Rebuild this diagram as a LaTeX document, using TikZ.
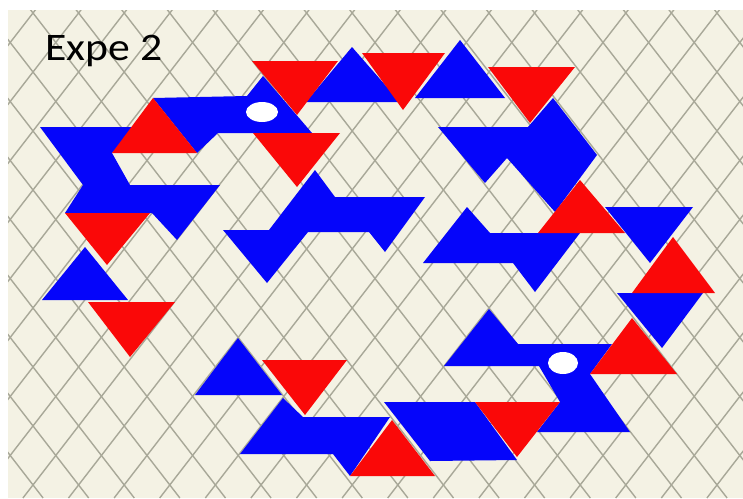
\documentclass[tikz,border=0pt]{standalone}
\usepackage{fontspec}
\newfontfamily\labfont{Carlito}
\definecolor{cream}{RGB}{244,242,228}
\definecolor{gridc}{RGB}{168,168,152}
\definecolor{pblue}{RGB}{5,5,250}
\definecolor{pred}{RGB}{250,8,8}
\begin{document}
\begin{tikzpicture}[x=1pt,y=-1pt,
  bl/.style={fill=pblue},
  rd/.style={fill=pred},
  gl/.style={gridc,line width=1.4pt},
  hole/.style={fill=white}]
\useasboundingbox (0,0) rectangle (743,498);
\fill[white] (0,0) rectangle (743,498);
\fill[cream] (8,10) rectangle (743,498);
\begin{scope}
\clip (8,10) rectangle (743,498);
\foreach \k in {-9,...,24}{
  \pgfmathsetmacro\xo{33+45.6*\k}
  \draw[gl] (\xo-10.05,0) -- (\xo+374.9,498);
  \draw[gl] (\xo+10.05,0) -- (\xo-374.9,498);
}
\end{scope}
% blue pieces
\fill[bl] (40,127) -- (135,127) -- (112,153) -- (130,185) -- (220,185) -- (177,240) -- (152,213) -- (65,213) -- (83,185) -- cycle;
\fill[bl] (153,98) -- (247,96) -- (263,76) -- (312,133) -- (218,133) -- (197,153) -- cycle;
\fill[bl] (352,47) -- (306,102) -- (400,102) -- cycle;
\fill[bl] (460,40) -- (415,98) -- (505,98) -- cycle;
\fill[bl] (438,127) -- (528,127) -- (553,98) -- (597,155) -- (555,212) -- (507,158) -- (485,183) -- cycle;
\fill[bl] (223,230) -- (269,230) -- (315,170) -- (335,197) -- (425,197) -- (385,252) -- (369,232) -- (308,232) -- (267,283) -- cycle;
\fill[bl] (423,263) -- (467,207) -- (490,233) -- (580,233) -- (535,292) -- (513,263) -- cycle;
\fill[bl] (605,207) -- (693,207) -- (650,263) -- cycle;
\fill[bl] (617,293) -- (703,293) -- (662,348) -- cycle;
\fill[bl] (85,247) -- (42,300) -- (128,300) -- cycle;
\fill[bl] (238,338) -- (195,395) -- (282,395) -- cycle;
\fill[bl] (240,454) -- (283,398) -- (303,417) -- (390,417) -- (350,476) -- (333,454) -- cycle;
\fill[bl] (384,402) -- (475,402) -- (517,460) -- (430,461) -- cycle;
\fill[bl] (444,366) -- (489,309) -- (518,344) -- (612,344) -- (590,374) -- (630,432) -- (537,432) -- (560,402) -- (539,366) -- cycle;
% red triangles
\fill[rd] (153,98) -- (112,153) -- (197,153) -- cycle;
\fill[rd] (252,61) -- (338,61) -- (297,115) -- cycle;
\fill[rd] (362,53) -- (445,53) -- (403,110) -- cycle;
\fill[rd] (488,67) -- (575,67) -- (530,123) -- cycle;
\fill[rd] (253,133) -- (340,133) -- (297,187) -- cycle;
\fill[rd] (65,213) -- (150,213) -- (107,265) -- cycle;
\fill[rd] (88,302) -- (175,302) -- (130,357) -- cycle;
\fill[rd] (580,180) -- (538,233) -- (625,233) -- cycle;
\fill[rd] (673,237) -- (632,293) -- (715,293) -- cycle;
\fill[rd] (632,318) -- (590,374) -- (677,374) -- cycle;
\fill[rd] (475,402) -- (560,402) -- (517,457) -- cycle;
\fill[rd] (392,420) -- (350,476) -- (435,476) -- cycle;
\fill[rd] (262,360) -- (347,360) -- (305,415) -- cycle;
% holes
\fill[hole] (262,112) ellipse [x radius=16, y radius=10];
\fill[hole] (563,363) ellipse [x radius=15, y radius=11];
\node[anchor=base west, inner sep=0pt, xscale=1.12] (title) at (45,60) {\labfont\fontsize{39}{42}\selectfont Expe 2};
\end{tikzpicture}
\end{document}
